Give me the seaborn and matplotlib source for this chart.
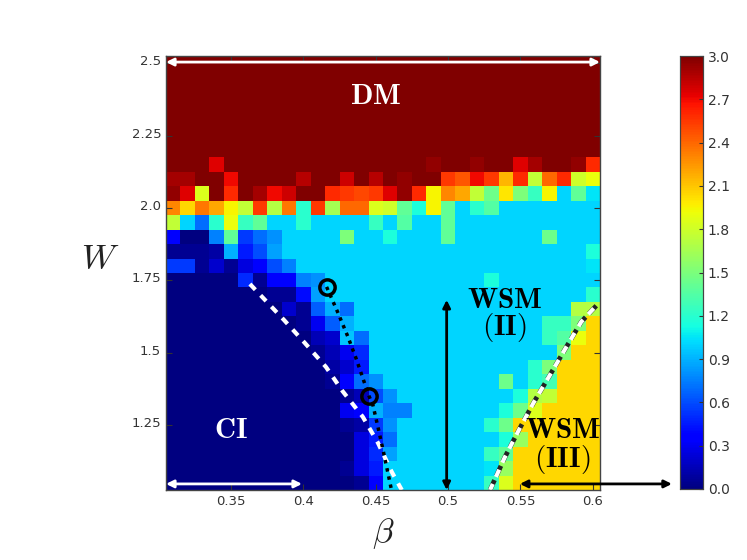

# Phasendiagramm W gegen beta als Heatmap
import matplotlib
matplotlib.use('Agg')
import matplotlib.pyplot as plt
from matplotlib.transforms import ScaledTranslation
import pandas as pd
import seaborn as sns

beta_labels = [0.31, 0.32, 0.33, 0.34, 0.35, 0.36, 0.37, 0.38, 0.39, 0.40,
               0.41, 0.42, 0.43, 0.44, 0.45, 0.46, 0.47, 0.48, 0.49, 0.50,
               0.51, 0.52, 0.53, 0.54, 0.55, 0.56, 0.57, 0.58, 0.59, 0.60]
w_labels = [2.50, 2.45, 2.40, 2.35, 2.30, 2.25, 2.20, 2.15, 2.10, 2.05,
            2.00, 1.95, 1.90, 1.85, 1.80, 1.75, 1.70, 1.65, 1.60, 1.55,
            1.50, 1.45, 1.40, 1.35, 1.30, 1.25, 1.20, 1.15, 1.10, 1.05]

# Zeilen von oben nach unten
gap = [
    [3, 3, 3, 3, 3, 3, 3, 3, 3, 3, 3, 3, 3, 3, 3, 3, 3, 3, 3, 3, 3, 3, 3, 3, 3, 3, 3, 3, 3, 3],
    [3, 3, 3, 3, 3, 3, 3, 3, 3, 3, 3, 3, 3, 3, 3, 3, 3, 3, 3, 3, 3, 3, 3, 3, 3, 3, 3, 3, 3, 3],
    [3, 3, 3, 3, 3, 3, 3, 3, 3, 3, 3, 3, 3, 3, 3, 3, 3, 3, 3, 3, 3, 3, 3, 3, 3, 3, 3, 3, 3, 3],
    [3, 3, 3, 3, 3, 3, 3, 3, 3, 3, 3, 3, 3, 3, 3, 3, 3, 3, 3, 3, 3, 3, 3, 3, 3, 3, 3, 3, 3, 3],
    [3, 3, 3, 3, 3, 3, 3, 3, 3, 3, 3, 3, 3, 3, 3, 3, 3, 3, 3, 3, 3, 3, 3, 3, 3, 3, 3, 3, 3, 3],
    [3, 3, 3, 3, 3, 3, 3, 3, 3, 3, 3, 3, 3, 3, 3, 3, 3, 3, 3, 3, 3, 3, 3, 3, 3, 3, 3, 3, 3, 3],
    [3, 3, 3, 3, 3, 3, 3, 3, 3, 3, 3, 3, 3, 3, 3, 3, 3, 3, 3, 3, 3, 3, 3, 3, 3, 3, 3, 3, 3, 3],
    [3, 3, 3, 2.75, 3, 3, 3, 3, 3, 3, 3, 3, 3, 3, 3, 3, 3, 3, 2.95, 3, 3, 2.95, 3, 3, 2.75, 2.9, 3, 3, 2.95, 2.6],
    [2.9, 2.9, 3, 3, 2.7, 3, 3, 3, 3, 2.85, 3, 3, 2.8, 3, 2.85, 3, 2.95, 3, 3, 2.55, 2.45, 2.7, 2.55, 2.15, 2.6, 1.75, 2.4, 2.6, 1.8, 1.9],
    [2.95, 2.75, 1.85, 3, 2.6, 3, 2.9, 2.7, 2.8, 3, 3, 2.6, 2.55, 2.5, 2.55, 2.75, 2.95, 2.6, 1.95, 2.3, 2.2, 1.75, 1.45, 2.0, 1.5, 1.25, 1.95, 1.0, 1.4, 1.05],
    [2.3, 2.05, 2.35, 2.2, 1.95, 1.75, 2.55, 1.7, 2.35, 1.2, 2.55, 1.65, 2.4, 2.4, 1.85, 1.8, 1.4, 1.15, 1.95, 1.4, 1.0, 1.2, 1.35, 1.0, 1.0, 1.0, 1.0, 1.0, 1.0, 1.0],
    [1.75, 1.0, 0.7, 1.2, 1.9, 1.25, 1.4, 1.0, 1.0, 1.2, 1.0, 1.0, 1.0, 1.0, 1.25, 1.0, 1.35, 1.0, 1.0, 1.4, 1.0, 1.0, 1.0, 1.0, 1.0, 1.0, 1.0, 1.0, 1.0, 1.0],
    [0.35, 0, 0, 0.75, 1.4, 0.55, 0.7, 0.8, 1.0, 1.0, 1.0, 1.0, 1.5, 1.0, 1.0, 1.15, 1.0, 1.0, 1.0, 1.4, 1.0, 1.0, 1.0, 1.0, 1.0, 1.0, 1.45, 1.0, 1.0, 1.0],
    [0.05, 0.05, 0.05, 0.1, 0.9, 0.45, 0.6, 0.85, 1.0, 1.0, 1.0, 1.0, 1.0, 1.0, 1.0, 1.0, 1.0, 1.0, 1.0, 1.0, 1.0, 1.0, 1.0, 1.0, 1.0, 1.0, 1.0, 1.0, 1.0, 1.15],
    [0.55, 0.55, 0.05, 0.2, 0.05, 0.25, 0.35, 0.6, 0.75, 1.0, 1.0, 1.0, 1.0, 1.0, 1.0, 1.0, 1.0, 1.0, 1.0, 1.0, 1.0, 1.0, 1.0, 1.0, 1.0, 1.0, 1.0, 1.0, 1.0, 1.05],
    [0, 0, 0, 0, 0, 0.5, 0.05, 0.35, 0.35, 0.75, 0.8, 1.0, 1.0, 1.0, 1.0, 1.0, 1.0, 1.0, 1.0, 1.0, 1.0, 1.0, 1.15, 1.0, 1.0, 1.0, 1.0, 1.0, 1.0, 1.0],
    [0, 0, 0, 0, 0, 0, 0, 0.05, 0.05, 0.4, 0.85, 1.0, 1.0, 1.0, 1.0, 1.0, 1.0, 1.0, 1.0, 1.0, 1.0, 1.0, 1.0, 1.0, 1.0, 1.0, 1.0, 1.0, 1.0, 1.2],
    [0, 0, 0, 0, 0, 0, 0, 0, 0.2, 0.05, 0.65, 0.9, 0.7, 1.0, 1.0, 1.0, 1.0, 1.0, 1.0, 1.0, 1.0, 1.0, 1.0, 1.0, 1.0, 1.0, 1.0, 1.0, 1.7, 1.7],
    [0, 0, 0, 0, 0, 0, 0, 0, 0, 0.05, 0.3, 0.65, 0.9, 1.0, 1.0, 1.0, 1.0, 1.0, 1.0, 1.0, 1.0, 1.0, 1.0, 1.0, 1.0, 1.0, 1.25, 1.25, 1.5, 2.05],
    [0, 0, 0, 0, 0, 0, 0, 0, 0, 0, 0.15, 0.2, 0.95, 0.7, 1.0, 1.0, 1.0, 1.0, 1.0, 1.0, 1.0, 1.0, 1.0, 1.0, 1.0, 1.0, 1.25, 1.35, 1.9, 2.05],
    [0, 0, 0, 0, 0, 0, 0, 0, 0, 0, 0.05, 0.15, 0.3, 0.5, 1.0, 1.0, 1.0, 1.0, 1.0, 1.0, 1.0, 1.0, 1.0, 1.0, 1.0, 1.0, 1.0, 1.5, 2.05, 2.05],
    [0, 0, 0, 0, 0, 0, 0, 0, 0, 0, 0, 0.1, 0.2, 0.45, 1.0, 1.0, 1.0, 1.0, 1.0, 1.0, 1.0, 1.0, 1.0, 1.0, 1.0, 1.2, 1.5, 2.05, 2.05, 2.05],
    [0, 0, 0, 0, 0, 0, 0, 0, 0, 0, 0, 0.05, 0.35, 0.7, 0.8, 1.0, 1.0, 1.0, 1.0, 1.0, 1.0, 1.0, 1.0, 1.45, 1.0, 1.2, 1.3, 2.05, 2.05, 2.05],
    [0, 0, 0, 0, 0, 0, 0, 0, 0, 0, 0, 0, 0.05, 0.15, 0.6, 0.8, 1.0, 1.0, 1.0, 1.0, 1.0, 1.0, 1.0, 1.0, 1.15, 1.7, 1.75, 2.05, 2.05, 2.05],
    [0, 0, 0, 0, 0, 0, 0, 0, 0, 0, 0, 0, 0.3, 0.35, 0.9, 0.75, 0.75, 1.0, 1.0, 1.0, 1.0, 1.0, 1.0, 1.15, 1.45, 1.85, 2.05, 2.05, 2.05, 2.05],
    [0, 0, 0, 0, 0, 0, 0, 0, 0, 0, 0, 0, 0.05, 0.1, 0.55, 0.8, 1.0, 1.0, 1.0, 1.0, 1.0, 1.0, 1.2, 1.45, 2.05, 2.05, 2.05, 2.05, 2.05, 2.05],
    [0, 0, 0, 0, 0, 0, 0, 0, 0, 0, 0, 0, 0, 0.25, 0.45, 0.7, 1.0, 1.0, 1.0, 1.0, 1.0, 1.0, 1.0, 1.15, 1.6, 2.05, 2.05, 2.05, 2.05, 2.05],
    [0, 0, 0, 0, 0, 0, 0, 0, 0, 0, 0, 0, 0, 0.25, 0.5, 0.85, 1.0, 1.0, 1.0, 1.0, 1.0, 1.0, 1.25, 1.4, 2.05, 2.05, 2.05, 2.05, 2.05, 2.05],
    [0, 0, 0, 0, 0, 0, 0, 0, 0, 0, 0, 0, 0.05, 0.25, 0.45, 1.0, 1.0, 1.0, 1.0, 1.0, 1.0, 1.0, 1.05, 1.6, 2.05, 2.05, 2.05, 2.05, 2.05, 2.05],
    [0, 0, 0, 0, 0, 0, 0, 0, 0, 0, 0, 0, 0, 0.05, 0.35, 1.0, 1.0, 1.0, 1.0, 1.0, 1.0, 1.0, 1.25, 1.85, 2.05, 2.05, 2.05, 2.05, 2.05, 2.05],
]

# Phasengrenzen
left_beta = [0.363, 0.3865, 0.401, 0.4156, 0.427, 0.441, 0.4515, 0.461, 0.468]
left_w = [1.737, 1.613, 1.533, 1.450, 1.367, 1.278, 1.188, 1.088, 1.025]
right_beta = [0.529, 0.539, 0.549, 0.559, 0.570, 0.581, 0.592, 0.603]
right_w = [1.025, 1.136, 1.233, 1.326, 1.419, 1.513, 1.606, 1.665]
dot_beta = [0.416, 0.4239, 0.4308, 0.4363, 0.4453, 0.448, 0.4515, 0.455, 0.4584, 0.461]
dot_w = [1.727, 1.637, 1.554, 1.481, 1.350, 1.319, 1.243, 1.164, 1.084, 1.022]
circle_beta = [0.416, 0.4453]
circle_w = [1.727, 1.350]

x_ticks = [0.35, 0.40, 0.45, 0.50, 0.55, 0.60]
x_ticklabels = ['0.35', '0.4', '0.45', '0.5', '0.55', '0.6']
y_ticks = [2.5, 2.25, 2.0, 1.75, 1.5, 1.25]
y_ticklabels = ['2.5', '2.25', '2.0', '1.75', '1.5', '1.25']
cbar_ticks = [0.0, 0.3, 0.6, 0.9, 1.2, 1.5, 1.8, 2.1, 2.4, 2.7, 3.0]


def to_x(b):
    return (b - 0.305) / 0.01


def to_y(w):
    return (2.525 - w) / 0.05


def arrow(ax, b0, w0, b1, w1, color):
    ax.annotate('', xy=(to_x(b1), to_y(w1)), xytext=(to_x(b0), to_y(w0)),
                annotation_clip=False,
                arrowprops=dict(arrowstyle='<|-|>', color=color, lw=2,
                                shrinkA=0, shrinkB=0, mutation_scale=11))


plt.rcParams['mathtext.fontset'] = 'cm'
W, H = 747, 560
fig = plt.figure(figsize=(W / 100, H / 100), dpi=100)
ax = fig.add_axes([166 / W, 1 - 490 / H, 434 / W, 434 / H])
cax = fig.add_axes([680 / W, 1 - 489 / H, 23 / W, 433 / H])

df = pd.DataFrame(gap, index=w_labels, columns=beta_labels)
sns.heatmap(df, ax=ax, cbar_ax=cax, cmap='jet', vmin=0, vmax=3,
            xticklabels=False, yticklabels=False, cbar_kws={'ticks': cbar_ticks})

ax.set_xticks([to_x(b) for b in x_ticks])
ax.set_xticklabels(x_ticklabels, rotation=0)
ax.set_yticks([to_y(w) for w in y_ticks])
ax.set_yticklabels(y_ticklabels, rotation=0)
ax.tick_params(direction='in', top=True, right=True, length=4, width=0.8,
               labelsize=9.5, colors='#333333')
for lab in ax.get_yticklabels():
    lab.set_transform(lab.get_transform() + ScaledTranslation(0, 2 / 72, fig.dpi_scale_trans))
for s in ax.spines.values():
    s.set_visible(True)
    s.set_linewidth(1)
    s.set_color('#444444')

cax.set_yticklabels(['%.1f' % t for t in cbar_ticks])
cax.tick_params(direction='in', length=3, width=0.8, labelsize=10, colors='#333333')
for s in cax.spines.values():
    s.set_visible(True)
    s.set_linewidth(0.8)
    s.set_color('#444444')

# Grenzlinien
ax.plot([to_x(b) for b in left_beta], [to_y(w) for w in left_w],
        color='white', lw=3, dashes=(1.9, 1.85))
ax.plot([to_x(b) for b in right_beta], [to_y(w) for w in right_w],
        color='#222222', lw=3.4, dashes=(2.3, 1.0))
ax.plot([to_x(b) for b in right_beta], [to_y(w) for w in right_w],
        color='white', lw=3, ls=(0.3, (1.9, 1.85)))
ax.plot([to_x(b) for b in dot_beta], [to_y(w) for w in dot_w],
        color='black', lw=2.5, ls=(0, (1, 1.4)))
ax.plot([to_x(b) for b in circle_beta], [to_y(w) for w in circle_w], ls='none',
        marker='o', ms=11, mfc='none', mec='black', mew=2.5)

arrow(ax, 0.305, 2.504, 0.605, 2.504, 'white')
arrow(ax, 0.305, 1.046, 0.399, 1.046, 'white')
arrow(ax, 0.499, 1.682, 0.499, 1.025, 'black')
arrow(ax, 0.5496, 1.046, 0.6547, 1.046, 'black')

labels = [(0.450, 2.387, r'$\mathbf{DM}$', 'white'),
          (0.350, 1.233, r'$\mathbf{CI}$', 'white'),
          (0.539, 1.682, r'$\mathbf{WSM}$', 'black'),
          (0.539, 1.585, r'$\mathbf{(II)}$', 'black'),
          (0.579, 1.233, r'$\mathbf{WSM}$', 'black'),
          (0.579, 1.129, r'$\mathbf{(III)}$', 'black')]
for b, w, txt, col in labels:
    ax.text(to_x(b), to_y(w), txt, color=col, fontsize=21, ha='center', va='center')

fig.text(100 / W, 1 - 258 / H, r'$W$', fontsize=25, ha='center', va='center', color='#222222')
fig.text(383 / W, 1 - 534 / H, r'$\beta$', fontsize=25, ha='center', va='center', color='#222222')

fig.savefig('out.png', dpi=100)
